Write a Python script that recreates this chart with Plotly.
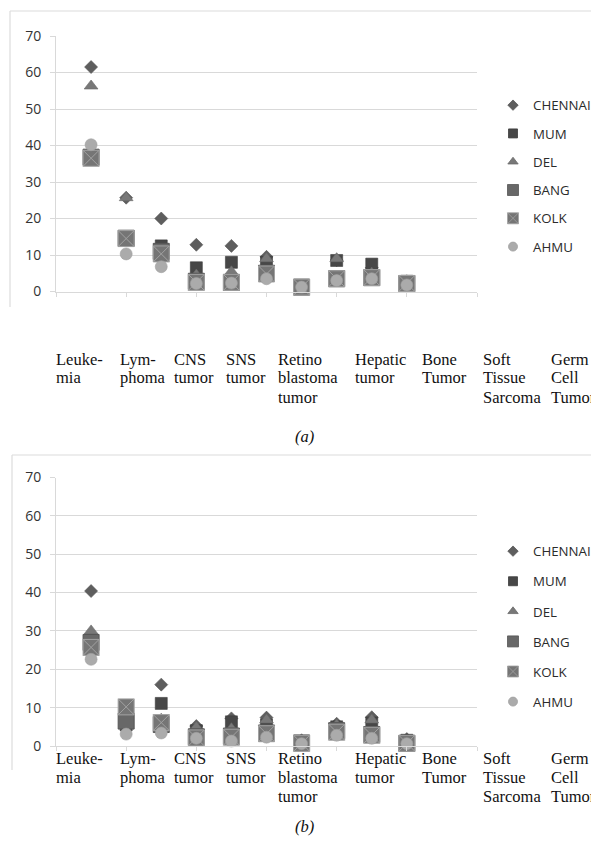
import plotly.graph_objects as go

# ---------------- data ----------------
X_INDEX = [1, 2, 3, 4, 5, 6, 7, 8, 9, 10]
SERIES = ["CHENNAI", "MUM", "DEL", "BANG", "KOLK", "AHMU"]

CATEGORY_LINES = [
    ["Leuke-", "mia"],
    ["Lym-", "phoma"],
    ["CNS", "tumor"],
    ["SNS", "tumor"],
    ["Retino", "blastoma", "tumor"],
    ["Hepatic", "tumor"],
    ["Bone", "Tumor"],
    ["Soft", "Tissue", "Sarcoma"],
    ["Germ", "Cell", "Tumor"],
]

A_CHENNAI = [61.5, 25.7, 20.0, 12.8, 12.5, 9.5, 1.5, 8.6, 6.5, 2.8]
A_MUM     = [37.0, 14.0, 12.5, 6.5, 8.0, 8.0, 1.5, 8.5, 7.5, 2.8]
A_DEL     = [56.3, 25.7, 11.0, 4.5, 5.4, 9.0, 1.2, 9.0, 5.0, 2.0]
A_BANG    = [36.8, 14.6, 11.0, 2.8, 2.5, 5.0, 1.2, 3.5, 3.8, 2.2]
A_KOLK    = [36.5, 14.5, 10.3, 2.5, 2.5, 4.8, 1.2, 3.5, 3.8, 2.2]
A_AHMU    = [40.2, 10.3, 6.8, 2.2, 2.3, 3.5, 1.2, 3.0, 3.5, 1.8]

B_CHENNAI = [40.4, 7.0, 16.0, 5.2, 7.2, 7.4, 1.5, 5.8, 7.5, 1.8]
B_MUM     = [27.5, 5.5, 11.1, 4.0, 6.3, 5.5, 1.0, 5.0, 6.0, 1.5]
B_DEL     = [30.0, 8.0, 7.0, 4.8, 4.5, 6.8, 1.3, 5.5, 6.8, 1.2]
B_BANG    = [27.0, 6.5, 5.6, 2.4, 2.6, 3.4, 0.8, 4.0, 3.0, 0.7]
B_KOLK    = [25.7, 10.2, 6.1, 2.1, 2.3, 3.2, 0.7, 3.6, 2.8, 0.7]
B_AHMU    = [22.6, 3.1, 3.4, 2.0, 1.3, 2.3, 0.6, 2.8, 2.0, 0.6]

PANEL_A = [A_CHENNAI, A_MUM, A_DEL, A_BANG, A_KOLK, A_AHMU]
PANEL_B = [B_CHENNAI, B_MUM, B_DEL, B_BANG, B_KOLK, B_AHMU]

Y_MIN, Y_MAX, Y_STEP = 0, 70, 10
X_MIN, X_MAX, X_STEP = 0, 12, 2

# ---------------- styles ----------------
W, H = 599, 843
PAGE_OFFSET = 8  # default page margin around the figure
STYLE = {
    "CHENNAI": dict(symbol="diamond", size=10, color="#5e5e5e", line=dict(width=0.6, color="#555555")),
    "MUM": dict(symbol="square", size=12, color="#474747", line=dict(width=0.6, color="#3c3c3c")),
    "DEL": dict(symbol="triangle-up", size=12, color="#787878", line=dict(width=0.6, color="#6a6a6a")),
    "BANG": dict(symbol="square", size=16, color="#686868", line=dict(width=1, color="#565656")),
    "KOLK": dict(symbol="square-x", size=16, color="#757575", line=dict(width=1, color="#a2a2a2")),
    "AHMU": dict(symbol="circle", size=12, color="#ababab", line=dict(width=0.6, color="#a0a0a0")),
}
LEGEND_SIZE = {"CHENNAI": 8, "MUM": 9, "DEL": 9, "BANG": 11, "KOLK": 11, "AHMU": 9}

def px_x(x):
    return (x - PAGE_OFFSET) / W

def px_y(y):
    return 1 - (y - PAGE_OFFSET) / H

fig = go.Figure()

for panel, xa, ya, lg in [(PANEL_A, "x", "y", "legend"), (PANEL_B, "x2", "y2", "legend2")]:
    for name, vals in zip(SERIES, panel):
        st = STYLE[name]
        fig.add_trace(go.Scatter(
            x=X_INDEX, y=vals, mode="markers", name=name,
            xaxis=xa, yaxis=ya, showlegend=False,
            marker=dict(symbol=st["symbol"], size=st["size"], color=st["color"], line=st["line"]),
            cliponaxis=False,
        ))
    # legend entries (no data points of their own)
    for name in SERIES:
        st = STYLE[name]
        fig.add_trace(go.Scatter(
            x=[None], y=[None], mode="markers", name=name,
            xaxis=xa, yaxis=ya, legend=lg, legendgroup=lg + name, showlegend=True,
            marker=dict(symbol=st["symbol"], size=LEGEND_SIZE[name], color=st["color"],
                        line=dict(width=0.8, color=st["line"]["color"])),
        ))

GRID = "#d9d9d9"
xcommon = dict(range=[X_MIN, X_MAX], dtick=X_STEP, tick0=0, showgrid=False, zeroline=False,
               showticklabels=False, ticks="outside", ticklen=4, tickcolor=GRID, automargin=False,
               showline=True, linecolor=GRID, linewidth=1, domain=[px_x(56), px_x(477)], fixedrange=True)
ycommon = dict(range=[Y_MIN, Y_MAX], dtick=Y_STEP, tick0=0, showgrid=True, gridcolor=GRID, gridwidth=1,
               zeroline=False, showline=True, linecolor=GRID, linewidth=1, ticks="outside", ticklen=5,
               tickcolor=GRID, ticklabelstandoff=6, automargin=False,
               tickfont=dict(family="Open Sans", size=14, color="#333333"), fixedrange=True)

LEGEND_FONT = dict(family="Open Sans", size=13.3, color="#2b2b2b")
fig.update_layout(
    width=W, height=H, margin=dict(l=0, r=0, t=0, b=0, pad=0, autoexpand=False),
    paper_bgcolor="white", plot_bgcolor="white",
    xaxis=dict(**xcommon, anchor="y"),
    yaxis=dict(**ycommon, anchor="x", domain=[px_y(291.5), px_y(36)]),
    xaxis2=dict(**xcommon, anchor="y2"),
    yaxis2=dict(**ycommon, anchor="x2", domain=[px_y(746), px_y(477.5)]),
    legend=dict(x=px_x(493), y=px_y(90), xanchor="left", yanchor="top", font=LEGEND_FONT,
                tracegroupgap=8.0, itemsizing="trace", bgcolor="rgba(0,0,0,0)"),
    legend2=dict(x=px_x(493), y=px_y(536), xanchor="left", yanchor="top", font=LEGEND_FONT,
                 tracegroupgap=9.8, itemsizing="trace", bgcolor="rgba(0,0,0,0)"),
    showlegend=True,
)

# chart-area frames (top + left edges)
shapes = []
for (left, top, bottom) in [(10, 11, 307), (12, 455, 770)]:
    shapes.append(dict(type="line", xref="paper", yref="paper", x0=px_x(left), x1=1.02,
                       y0=px_y(top), y1=px_y(top), line=dict(color="#dcdcdc", width=1.2)))
    shapes.append(dict(type="line", xref="paper", yref="paper", x0=px_x(left), x1=px_x(left),
                       y0=px_y(top), y1=px_y(bottom), line=dict(color="#dcdcdc", width=1.2)))
fig.update_layout(shapes=shapes)

# category labels (separate text block under each chart)
LABEL_LEFT = [54, 118, 172, 224, 276, 353, 420, 481, 549]
annotations = []
for rows_y, cap_y, cap in [([359, 378, 397.5], 436, "(a)"), ([758, 777, 796.5], 826, "(b)")]:
    for lines, lx in zip(CATEGORY_LINES, LABEL_LEFT):
        for j, t in enumerate(lines):
            annotations.append(dict(text=t, x=px_x(lx), y=px_y(rows_y[j]), xref="paper", yref="paper",
                                    xanchor="left", yanchor="middle", showarrow=False,
                                    font=dict(family="Liberation Serif", size=16.5, color="#111111")))
    annotations.append(dict(text="<i>" + cap + "</i>", x=px_x(304), y=px_y(cap_y), xref="paper", yref="paper",
                            xanchor="center", yanchor="middle", showarrow=False,
                            font=dict(family="Liberation Serif", size=16.5, color="#111111")))
fig.update_layout(annotations=annotations)

fig.write_html("out.html")
